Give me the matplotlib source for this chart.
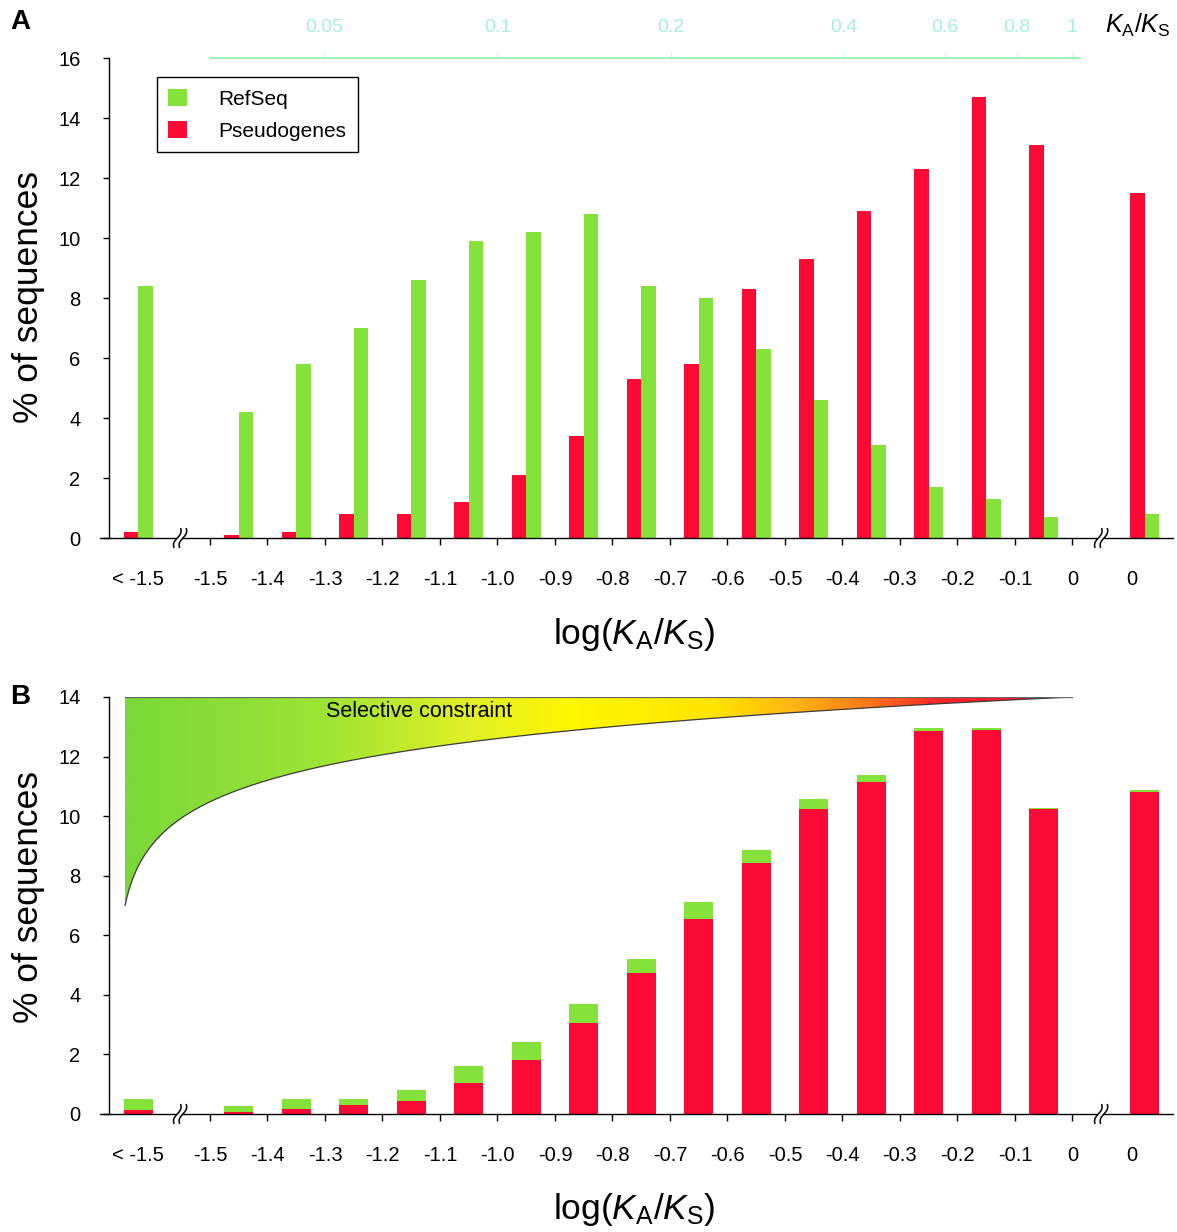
import numpy as np
import matplotlib
matplotlib.use("Agg")
import matplotlib.pyplot as plt
from matplotlib.patches import Patch, Polygon
from matplotlib.colors import LinearSegmentedColormap
import matplotlib.transforms as mtransforms

plt.rcParams['font.family'] = ['Liberation Sans', 'DejaVu Sans']
plt.rcParams['mathtext.fontset'] = 'custom'
plt.rcParams['mathtext.rm'] = 'Liberation Sans'
plt.rcParams['mathtext.it'] = 'Liberation Sans:italic'
plt.rcParams['mathtext.bf'] = 'Liberation Sans:bold'

# ---------------- data ----------------
edge_labels = ['-1.5', '-1.4', '-1.3', '-1.2', '-1.1', '-1.0', '-0.9', '-0.8',
               '-0.7', '-0.6', '-0.5', '-0.4', '-0.3', '-0.2', '-0.1', '0']
low_label = '< -1.5'
high_label = '0'
# bins: "< -1.5", 15 bins from -1.5 to 0, and the overflow bin
refseq_A = [8.4, 4.2, 5.8, 7.0, 8.6, 9.9, 10.2, 10.8, 8.4, 8.0, 6.3, 4.6, 3.1, 1.7, 1.3, 0.7, 0.8]
pseudo_A = [0.2, 0.1, 0.2, 0.8, 0.8, 1.2, 2.1, 3.4, 5.3, 5.8, 8.3, 9.3, 10.9, 12.3, 14.7, 13.1, 11.5]
pseudo_B = [0.12, 0.05, 0.16, 0.31, 0.45, 1.05, 1.81, 3.07, 4.74, 6.56, 8.43, 10.23, 11.14, 12.87, 12.90, 10.23, 10.82]
refseq_B = [0.37, 0.22, 0.34, 0.19, 0.34, 0.56, 0.60, 0.63, 0.47, 0.57, 0.42, 0.33, 0.23, 0.10, 0.07, 0.03, 0.06]
ratio_ticks = [0.05, 0.1, 0.2, 0.4, 0.6, 0.8, 1]
ratio_labels = ['0.05', '0.1', '0.2', '0.4', '0.6', '0.8', '1']

GREEN = '#84e23a'
RED = '#fb0a35'
PALE = '#a8eedb'

# ---------------- layout (index space: tick k at x=k) ----------------
n_inner = len(edge_labels) - 1
pos = np.concatenate([[-1.25], np.arange(n_inner) + 0.5, [16.26]])
low_lab_pos, high_lab_pos = -1.25, 16.03
XL = (-1.757, 16.75)
break_pos = [-0.52, 15.5]

fig = plt.figure(figsize=(11.77, 12.32), dpi=100)
axA = fig.add_axes([0.0926, 0.5633, 0.904, 0.3896])
axB = fig.add_axes([0.0926, 0.0958, 0.904, 0.3385])


def style_axis(ax, ymax, ystep):
    ax.set_xlim(*XL)
    ax.set_ylim(0, ymax)
    for s in ['top', 'right', 'bottom']:
        ax.spines[s].set_visible(False)
    ax.spines['left'].set_linewidth(1.0)
    ax.set_yticks(np.arange(0, ymax + 0.01, ystep))
    ax.tick_params(axis='y', direction='out', length=4.5, width=1.0, pad=16, labelsize=14.5)
    ax.set_xticks(np.arange(len(edge_labels)))
    ax.set_xticklabels(edge_labels)
    ax.set_xticks([low_lab_pos, high_lab_pos], minor=True)
    ax.set_xticklabels([low_label, high_label], minor=True)
    ax.tick_params(axis='x', which='major', direction='out', length=5, width=1.0, pad=18, labelsize=14.5)
    ax.tick_params(axis='x', which='minor', length=0, pad=23, labelsize=14.5)
    ax.plot([-1.92, XL[1]], [0, 0], color='black', lw=1.0, clip_on=False, zorder=3)
    # axis break marks
    for bp in break_pos:
        tr = fig.dpi_scale_trans + mtransforms.ScaledTranslation(bp, 0, ax.transData)
        yy = np.linspace(-0.1, 0.1, 40)
        xx = 0.33 * yy + 0.018 * np.sin(np.pi * yy / 0.1)
        g = 0.028
        poly = Polygon(np.column_stack([np.concatenate([xx - g, (xx + g)[::-1]]),
                                        np.concatenate([yy, yy[::-1]])]),
                       closed=True, facecolor='white', edgecolor='none',
                       transform=tr, clip_on=False, zorder=4)
        ax.add_patch(poly)
        for sgn in (-1, 1):
            ax.plot(xx + sgn * g, yy, color='black', lw=1.1, transform=tr,
                    clip_on=False, zorder=5, solid_capstyle='butt')


# ---------------- Panel A ----------------
style_axis(axA, 16, 2)
w = 0.25
axA.bar(pos - w / 2, pseudo_A, width=w, color=RED, linewidth=0, zorder=2)
axA.bar(pos + w / 2, refseq_A, width=w, color=GREEN, linewidth=0, zorder=2)

leg = axA.legend(handles=[Patch(facecolor=GREEN, edgecolor='none', label='RefSeq'),
                          Patch(facecolor=RED, edgecolor='none', label='Pseudogenes')],
                 loc='upper left', bbox_to_anchor=(0.045, 0.96), fontsize=15,
                 frameon=True, fancybox=False, framealpha=1, edgecolor='black',
                 handlelength=0.9, handleheight=0.9, handletextpad=1.5,
                 labelspacing=0.6, borderpad=0.55, borderaxespad=0)
leg.get_frame().set_linewidth(1.0)


def fwd(u):
    return 10 ** (-1.5 + 0.1 * np.asarray(u, dtype=float))


def inv(v):
    v = np.clip(np.asarray(v, dtype=float), 1e-12, None)
    return (np.log10(v) + 1.5) / 0.1


sec = axA.secondary_xaxis('top', functions=(fwd, inv))
sec.set_xticks(ratio_ticks)
sec.set_xticklabels(ratio_labels)
sec.tick_params(axis='x', direction='out', length=5, width=0.8, color='#d8f5e6',
                labelcolor=PALE, labelsize=14, pad=11)
sec.xaxis.set_minor_locator(matplotlib.ticker.NullLocator())
sec.spines['top'].set_color('#8af0a8')
sec.spines['top'].set_linewidth(1.2)
sec.spines['top'].set_bounds(fwd(0), fwd(15.13))

fig.text(0.967, 0.979, r'$K_{\mathrm{A}}$/$K_{\mathrm{S}}$', fontsize=18, ha='center', va='center')

# ---------------- Panel B ----------------
style_axis(axB, 14, 2)
wb = 0.5
axB.bar(pos, pseudo_B, width=wb, color=RED, linewidth=0, zorder=2)
axB.bar(pos, refseq_B, width=wb, bottom=pseudo_B, color=GREEN, linewidth=0, zorder=2)

# selective-constraint wedge (decorative)
u0, u1 = -1.478, 15.0
uu = np.linspace(u0, u1, 500)
bcoef = 6.0
ccoef = 7.0 / np.log(1 + bcoef * (u1 - u0))
lower = 7.0 + ccoef * np.log(1 + bcoef * (uu - u0))
verts = np.vstack([[[u0, 14.0], [u1, 14.0]], np.column_stack([uu[::-1], lower[::-1]])])
wedge = Polygon(verts, closed=True, facecolor='none', edgecolor='none', zorder=1)
axB.add_patch(wedge)
stops_u = [u0, 2.0, 4.5, 6.3, 8.8, 10.2, 11.4, 12.6, u1]
stops_c = ['#7ad83a', '#9ee434', '#e2f026', '#fff600', '#ffe400', '#ffb414',
           '#ff7c18', '#ff2a25', '#ff0030']
cmap = LinearSegmentedColormap.from_list(
    'sel', list(zip([(s - u0) / (u1 - u0) for s in stops_u], stops_c)))
grad = np.linspace(0, 1, 600)[None, :]
im = axB.imshow(grad, extent=(u0, u1, 7.0, 14.0), aspect='auto', cmap=cmap,
                interpolation='bilinear', origin='lower', zorder=1)
im.set_clip_path(wedge)
axB.plot(uu, lower, color='#3a3a3a', lw=0.9, zorder=1.5)
axB.plot([u0, u1], [14, 14], color='#666666', lw=0.9, zorder=1.5)
axB.text(3.63, 13.5, 'Selective constraint', fontsize=15.5, ha='center', va='center', zorder=3)
axB.set_xlim(*XL)
axB.set_ylim(0, 14)

# ---------------- labels ----------------
for yc in (0.759, 0.272):
    fig.text(0.0238, yc, '% of sequences', rotation=90, fontsize=25.5, ha='center', va='center')
for yc in (0.4846, 0.0179):
    fig.text(0.5387, yc, r'log($K_{\mathrm{A}}$/$K_{\mathrm{S}}$)', fontsize=25.5,
             ha='center', va='center')
fig.text(0.017, 0.982, 'A', fontsize=20, fontweight='bold', ha='center', va='center')
fig.text(0.017, 0.434, 'B', fontsize=20, fontweight='bold', ha='center', va='center')

fig.savefig('out.png', dpi=100, facecolor='white')
